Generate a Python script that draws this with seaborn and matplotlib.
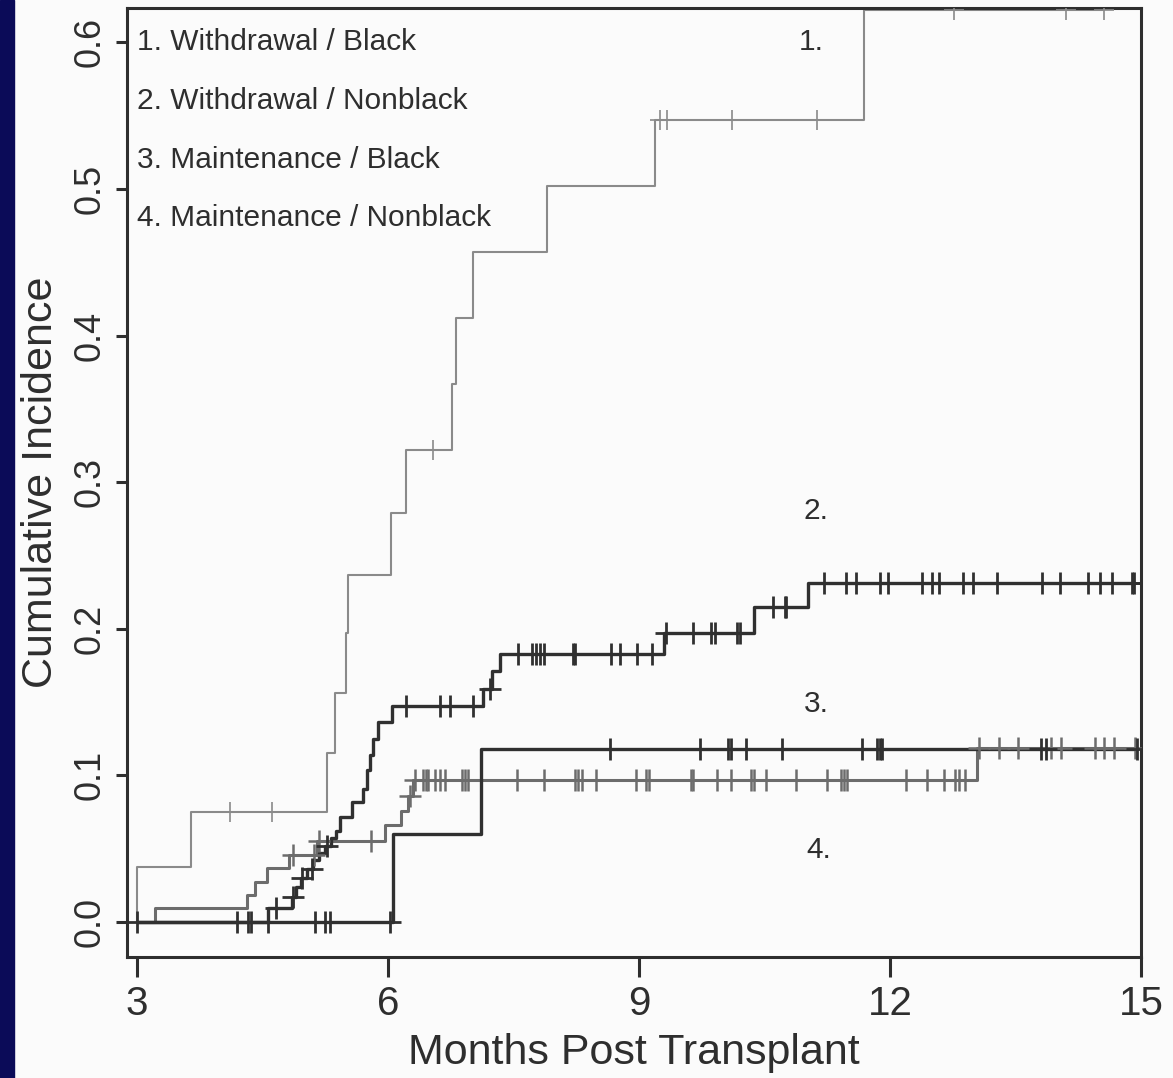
import numpy as np
import pandas as pd
import matplotlib
matplotlib.use("Agg")
import matplotlib.pyplot as plt
from matplotlib.patches import Rectangle
import seaborn as sns

# ---------------- data ----------------
# 1. Withdrawal / Black
c1_t = [3.0, 3.0, 3.64, 5.27, 5.37, 5.50, 5.52, 6.04, 6.22, 6.77, 6.81, 7.02, 7.90, 9.19, 11.69, 14.56]
c1_y = [0.0, 0.0377, 0.0748, 0.115, 0.156, 0.197, 0.2365, 0.279, 0.322, 0.367, 0.412, 0.457, 0.502, 0.547, 0.622, 0.622]
c1_cens = [4.11, 4.61, 6.54, 9.25, 9.34, 10.11, 11.13, 12.77, 14.1, 14.56]

# 2. Withdrawal / Nonblack
c2_t = [3.0, 4.57, 4.85, 4.90, 4.96, 5.03, 5.10, 5.18, 5.25, 5.32, 5.38, 5.43, 5.57, 5.70, 5.745,
        5.78, 5.82, 5.885, 6.05, 7.14, 7.24, 7.34, 9.30, 10.38, 11.02, 14.93]
c2_y = [0.0, 0.0093, 0.017, 0.024, 0.030, 0.036, 0.042, 0.047, 0.052, 0.057, 0.062, 0.0718, 0.082,
        0.0905, 0.1036, 0.1138, 0.125, 0.1365, 0.147, 0.159, 0.171, 0.183, 0.197, 0.2145, 0.2315, 0.2315]
c2_cens = [4.66, 4.86, 4.97, 5.09, 5.27, 6.22, 6.62, 6.74, 7.01, 7.22, 7.55, 7.72, 7.77, 7.82, 7.86,
           8.21, 8.24, 8.67, 8.77, 8.97, 9.16, 9.32, 9.65, 9.86, 9.91, 10.17, 10.21, 10.6, 10.74,
           10.76, 11.21, 11.47, 11.59, 11.88, 11.97, 12.38, 12.5, 12.59, 12.87, 12.99, 13.28,
           13.82, 14.03, 14.37, 14.51, 14.65, 14.89, 14.92]

# 3. Maintenance / Black
c3_t = [3.0, 6.06, 7.11, 14.95]
c3_y = [0.0, 0.0597, 0.118, 0.118]
c3_cens = [3.0, 4.20, 4.33, 4.36, 4.57, 5.13, 5.25, 5.31, 6.02, 8.65, 9.73, 10.06, 10.1, 10.28,
           10.71, 11.66, 11.85, 11.88, 11.9, 13.8, 13.86, 14.95]

# 4. Maintenance / Nonblack
c4_t = [3.0, 3.215, 4.31, 4.41, 4.55, 4.82, 5.15, 5.96, 6.16, 6.24, 6.30, 13.04, 14.93]
c4_y = [0.0, 0.0093, 0.0184, 0.0275, 0.0365, 0.0457, 0.0555, 0.066, 0.0755, 0.086, 0.0965, 0.1185, 0.1185]
c4_cens = [4.86, 5.12, 5.18, 5.80, 6.26, 6.32, 6.42, 6.45, 6.48, 6.56, 6.62, 6.68, 6.88, 6.92,
           6.96, 7.54, 7.86, 8.23, 8.27, 8.32, 8.49, 8.96, 9.08, 9.12, 9.62, 9.65, 9.93, 10.1,
           10.34, 10.38, 10.52, 10.88, 11.25, 11.42, 11.45, 11.48, 12.19, 12.44, 12.64, 12.78,
           12.82, 12.9, 13.06, 13.3, 13.53, 13.93, 14.04, 14.45, 14.56, 14.68, 14.93]

legend_labels = ["1. Withdrawal / Black", "2. Withdrawal / Nonblack",
                 "3. Maintenance / Black", "4. Maintenance / Nonblack"]
legend_y = [0.60, 0.56, 0.52, 0.48]
curve_tags = ["1.", "2.", "3.", "4."]
tag_x = [11.06, 11.12, 11.12, 11.15]
tag_y = [0.600, 0.280, 0.149, 0.049]

x_ticks = [3, 6, 9, 12, 15]
y_ticks = [0.0, 0.1, 0.2, 0.3, 0.4, 0.5, 0.6]
y_tick_labels = ["0.0", "0.1", "0.2", "0.3", "0.4", "0.5", "0.6"]

# ---------------- styling ----------------
sns.set_style("white")
plt.rcParams["font.family"] = ["Liberation Sans", "DejaVu Sans"]
ink = "#2e2e2e"
paper = "#fbfbfb"

fig = plt.figure(figsize=(11.73, 10.78), dpi=100, facecolor=paper)
fig.patches.append(Rectangle((0, 0), 14 / 1173, 1, transform=fig.transFigure,
                             color="#0b0b58", zorder=0))
ax = fig.add_axes([127 / 1173, 1 - 957 / 1078, (1141 - 127) / 1173, (957 - 8) / 1078])
ax.set_facecolor(paper)

curves = [
    (c1_t, c1_y, c1_cens, "#8a8a8a", 1.5, 200, 1.2),
    (c4_t, c4_y, c4_cens, "#6c6c6c", 2.2, 250, 1.8),
    (c3_t, c3_y, c3_cens, "#303030", 2.4, 250, 2.0),
    (c2_t, c2_y, c2_cens, "#303030", 2.4, 250, 2.0),
]
for t, y, cens, col, lw, ms, mlw in curves:
    df = pd.DataFrame({"t": t, "y": y})
    sns.lineplot(data=df, x="t", y="y", estimator=None, sort=False,
                 drawstyle="steps-post", color=col, linewidth=lw, ax=ax, zorder=2)
    t_arr = np.asarray(t)
    y_arr = np.asarray(y)
    idx = np.searchsorted(t_arr, np.asarray(cens), side="right") - 1
    cdf = pd.DataFrame({"t": cens, "y": y_arr[idx]})
    sns.scatterplot(data=cdf, x="t", y="y", marker="+", s=ms, color=col,
                    linewidth=mlw, ax=ax, zorder=3)

for lab, yy in zip(legend_labels, legend_y):
    ax.text(3.0, yy, lab, fontsize=21.5, color=ink, ha="left", va="center")
for lab, xx, yy in zip(curve_tags, tag_x, tag_y):
    ax.text(xx, yy, lab, fontsize=21.5, color=ink, ha="center", va="center")

ax.set_xlim(2.88, 15.0)
ax.set_ylim(-0.0239, 0.6234)
ax.set_xticks(x_ticks)
ax.set_xticklabels([str(v) for v in x_ticks])
ax.set_yticks(y_ticks)
ax.set_yticklabels(y_tick_labels)

for s in ax.spines.values():
    s.set_visible(True)
    s.set_color(ink)
    s.set_linewidth(2.2)

ax.tick_params(axis="x", direction="out", length=14.5, width=2.2, color=ink,
               labelsize=29, labelcolor=ink, pad=6, bottom=True)
ax.tick_params(axis="y", direction="out", length=8, width=2.2, color=ink,
               labelsize=26, labelcolor=ink, pad=6, labelrotation=90, left=True)
for lbl in ax.get_yticklabels():
    lbl.set_va("center")

ax.set_xlabel("Months Post Transplant", fontsize=31, color=ink, labelpad=7)
ax.set_ylabel("Cumulative Incidence", fontsize=31, color=ink, labelpad=8)

fig.savefig("out.png", dpi=100, facecolor=paper)
